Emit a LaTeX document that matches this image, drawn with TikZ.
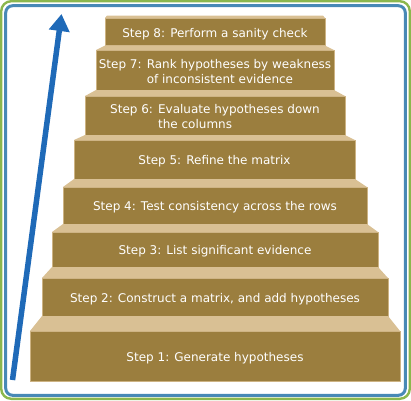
\documentclass[tikz,border=0pt]{standalone}
\usepackage{fontspec}
\setmainfont{DejaVu Sans}
\usetikzlibrary{arrows.meta}

\definecolor{stepbrown}{RGB}{155,126,62}
\definecolor{steptan}{RGB}{217,192,148}
\definecolor{arrowblue}{RGB}{31,106,184}
\definecolor{frameblue}{RGB}{72,137,182}
\definecolor{framegreen}{RGB}{139,183,77}

\tikzset{
	front/.style={rectangle, fill=stepbrown, draw=steptan!80!stepbrown, line width=0.6pt,
		inner sep=0pt, outer sep=0pt, text=white, align=center,
		font=\fontsize{12}{15}\selectfont, text height=11pt, text depth=0.2pt},
	twoline/.style={text height=10pt, text depth=14pt},
	tread/.style={fill=steptan}
}

\begin{document}
\begin{tikzpicture}[x=1pt,y=-1pt]
\useasboundingbox (0,0) rectangle (411,400);
\draw[framegreen, line width=2.4pt, rounded corners=10pt] (1.2,1.2) rectangle (409.8,398.8);
\draw[frameblue, line width=3pt, rounded corners=7pt] (5.7,5.7) rectangle (405.3,395.3);

\path (215,356) node[front, minimum width=370pt, minimum height=50pt] (s1) {Step 1: Generate hypotheses}
		(215,297) node[front, minimum width=346pt, minimum height=38pt] (s2) {Step 2: Construct a matrix, and add hypotheses}
		(215,249.5) node[front, minimum width=326pt, minimum height=35pt] (s3) {Step 3: List significant evidence}
		(215,205.5) node[front, minimum width=304pt, minimum height=37pt] (s4) {Step 4: Test consistency across the rows}
		(214.5,159.5) node[front, minimum width=281pt, minimum height=39pt] (s5) {Step 5: Refine the matrix}
		(215,115.5) node[front, twoline, minimum width=260pt, minimum height=39pt] (s6)
			{Step 6: \begin{tabular}[t]{@{}l@{}}Evaluate hypotheses down\\the columns\end{tabular}}
		(215,70) node[front, twoline, minimum width=238pt, minimum height=40pt] (s7)
			{Step 7: \begin{tabular}[t]{@{}l@{}}Rank hypotheses by weakness\\of inconsistent evidence\end{tabular}}
		(215,31.75) node[front, minimum width=220pt, minimum height=27.5pt] (s8) {Step 8: Perform a sanity check}
		;

\fill[tread] (s2.south west) -- (s2.south east) -- (s1.north east) -- (s1.north west) -- cycle;
\fill[tread] (s3.south west) -- (s3.south east) -- (s2.north east) -- (s2.north west) -- cycle;
\fill[tread] (s4.south west) -- (s4.south east) -- (s3.north east) -- (s3.north west) -- cycle;
\fill[tread] (s5.south west) -- (s5.south east) -- (s4.north east) -- (s4.north west) -- cycle;
\fill[tread] (s6.south west) -- (s6.south east) -- (s5.north east) -- (s5.north west) -- cycle;
\fill[tread] (s7.south west) -- (s7.south east) -- (s6.north east) -- (s6.north west) -- cycle;
\fill[tread] (s8.south west) -- (s8.south east) -- (s7.north east) -- (s7.north west) -- cycle;
\fill[tread] (s8.north west) -- (s8.north east) -- ([xshift=-2pt,yshift=2.5pt]s8.north east)
		-- ([xshift=2pt,yshift=2.5pt]s8.north west) -- cycle;

\coordinate (foot) at (12.5,380);
\coordinate (tip) at (61.5,14);
\draw[arrowblue, line width=5.5pt, -{Triangle[width=20pt,length=17pt]}] (foot) -- (tip);
\end{tikzpicture}
\end{document}
